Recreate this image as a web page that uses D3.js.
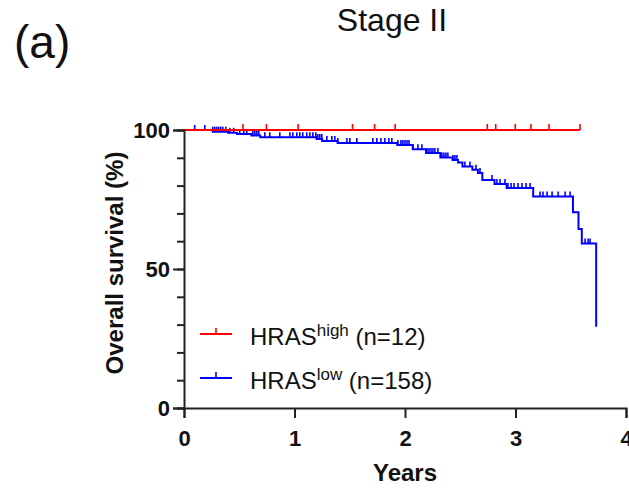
<!DOCTYPE html>
<html>
<head>
<meta charset="utf-8">
<script src="https://cdn.jsdelivr.net/npm/d3@7"></script>
<style>
  body { margin: 0; background: #fff; }
  text { font-family: "Liberation Sans", Arial, sans-serif; fill: #111; }
</style>
</head>
<body>
<svg id="chart" width="629" height="488"></svg>
<script>
// tick labels
const xTicks = [0, 1, 2, 3, 4];
const yTicks = [0, 50, 100];
const yMinor = [0, 10, 20, 30, 40, 50, 60, 70, 80, 90, 100];

// HRAS high: no deaths, all censored
const highCensor = [0.534, 0.746, 1.033, 1.525, 1.725, 1.911, 2.745, 2.821, 2.998, 3.140, 3.303, 3.584];

// HRAS low: event times (years) and survival after each step (%)
const lowEvents = [0.26, 0.40, 0.48, 0.61, 0.69, 1.20, 1.25, 1.39, 1.93, 2.07, 2.19, 2.32, 2.43, 2.48,
  2.52, 2.61, 2.66, 2.70, 2.81, 2.92, 3.16, 3.52, 3.57, 3.60, 3.73];
const lowSurv = [99.4, 99.0, 98.6, 98.0, 97.4, 96.8, 96.0, 95.3, 94.6, 93.1, 91.7, 90.1, 89.2, 88.3,
  86.9, 85.7, 84.5, 82.0, 80.6, 79.1, 76.1, 70.4, 64.4, 59.2, 29.2];
const lowCensor = [0.097, 0.188, 0.260, 0.278, 0.296, 0.314, 0.332, 0.351, 0.378, 0.414, 0.450, 0.505,
  0.541, 0.568, 0.623, 0.641, 0.659, 0.677, 0.731, 0.776, 0.867, 0.958, 0.985, 1.021, 1.048, 1.075,
  1.111, 1.139, 1.166, 1.193, 1.211, 1.229, 1.247, 1.293, 1.338, 1.365, 1.392, 1.474, 1.501, 1.564,
  1.709, 1.745, 1.782, 1.818, 1.854, 1.881, 1.936, 1.963, 1.981, 2.000, 2.018, 2.036, 2.072, 2.117,
  2.153, 2.199, 2.217, 2.235, 2.253, 2.271, 2.298, 2.334, 2.352, 2.370, 2.388, 2.434, 2.452, 2.470,
  2.542, 2.588, 2.642, 2.679, 2.787, 2.832, 2.860, 2.905, 2.932, 2.960, 2.987, 3.023, 3.059, 3.096,
  3.132, 3.222, 3.249, 3.286, 3.331, 3.386, 3.449, 3.494, 3.630, 3.657, 3.675];

const svg = d3.select("#chart");

const x = d3.scaleLinear().domain([0, 4]).range([184, 626]);
const y = d3.scaleLinear().domain([0, 100]).range([408, 130]);

// survival at time t from step data
function survAt(events, surv, t) {
  let s = 100;
  for (let i = 0; i < events.length; i++) {
    if (events[i] <= t) s = surv[i];
  }
  return s;
}

const line = d3.line()
  .x(d => x(d[0]))
  .y(d => y(d[1]))
  .curve(d3.curveStepAfter);

// blue curve
let lowPts = [[0, 100]];
lowEvents.forEach((t, i) => lowPts.push([t, lowSurv[i]]));

svg.append("path")
  .attr("d", line(lowPts))
  .attr("fill", "none")
  .attr("stroke", "#0000ff")
  .attr("stroke-width", 2);

svg.selectAll(".lowc")
  .data(lowCensor)
  .enter()
  .append("line")
  .attr("x1", d => x(d)).attr("x2", d => x(d))
  .attr("y1", d => y(survAt(lowEvents, lowSurv, d)))
  .attr("y2", d => y(survAt(lowEvents, lowSurv, d)) - 5)
  .attr("stroke", "#0000ff")
  .attr("stroke-width", 1.6);

// red curve
let highPts = [[0, 100], [d3.max(highCensor), 100]];
svg.append("path")
  .attr("d", line(highPts))
  .attr("fill", "none")
  .attr("stroke", "#ff0000")
  .attr("stroke-width", 2);

svg.selectAll(".highc")
  .data(highCensor)
  .enter()
  .append("line")
  .attr("x1", d => x(d)).attr("x2", d => x(d))
  .attr("y1", y(100))
  .attr("y2", y(100) - 6)
  .attr("stroke", "#ff0000")
  .attr("stroke-width", 1.6);

// axes
const xAxis = svg.append("g")
  .attr("transform", "translate(0,408)")
  .call(d3.axisBottom(x).tickValues(xTicks).tickFormat(d3.format("d")).tickSize(10).tickPadding(12));

const yAxisMinor = svg.append("g")
  .attr("transform", "translate(184,0)")
  .call(d3.axisLeft(y).tickValues(yMinor).tickFormat("").tickSize(7));

const yAxis = svg.append("g")
  .attr("transform", "translate(184,0)")
  .call(d3.axisLeft(y).tickValues(yTicks).tickSize(11).tickPadding(3));

[xAxis, yAxis, yAxisMinor].forEach(g => {
  g.selectAll("path, line").attr("stroke", "#222").attr("stroke-width", 2);
  g.selectAll("text")
    .style("font-family", "Liberation Sans, Arial, sans-serif")
    .style("font-weight", "bold")
    .style("font-size", "22px")
    .attr("fill", "#111");
});
yAxisMinor.select(".domain").remove();

// axis titles
svg.append("text")
  .attr("x", 405).attr("y", 481)
  .attr("text-anchor", "middle")
  .style("font-weight", "bold")
  .style("font-size", "24px")
  .text("Years");

svg.append("text")
  .attr("transform", "translate(123,263) rotate(-90)")
  .attr("text-anchor", "middle")
  .style("font-weight", "bold")
  .style("font-size", "24px")
  .text("Overall survival (%)");

// title and panel letter
svg.append("text")
  .attr("x", 392).attr("y", 31)
  .attr("text-anchor", "middle")
  .style("font-size", "32px")
  .text("Stage II");

svg.append("text")
  .attr("x", 14).attr("y", 58)
  .style("font-size", "46px")
  .text("(a)");

// legend
const legendNames = ["high", "low"];
const legendN = [12, 158];
const legendColors = ["#ff0000", "#0000ff"];

const leg = svg.selectAll(".leg")
  .data(legendNames)
  .enter()
  .append("g")
  .attr("transform", (d, i) => `translate(200,${334 + i * 44})`);

leg.append("line")
  .attr("x1", 0).attr("x2", 32).attr("y1", 0).attr("y2", 0)
  .attr("stroke", (d, i) => legendColors[i])
  .attr("stroke-width", 2);

leg.append("line")
  .attr("x1", 16).attr("x2", 16).attr("y1", 0).attr("y2", -6)
  .attr("stroke", (d, i) => legendColors[i])
  .attr("stroke-width", 1.6);

const lt = leg.append("text")
  .attr("x", 50).attr("y", 11)
  .style("font-size", "24px");
lt.append("tspan").text("HRAS");
lt.append("tspan")
  .attr("dy", -9)
  .style("font-size", "17px")
  .text(d => d);
lt.append("tspan")
  .attr("dy", 9)
  .text((d, i) => ` (n=${legendN[i]})`);
</script>
</body>
</html>
